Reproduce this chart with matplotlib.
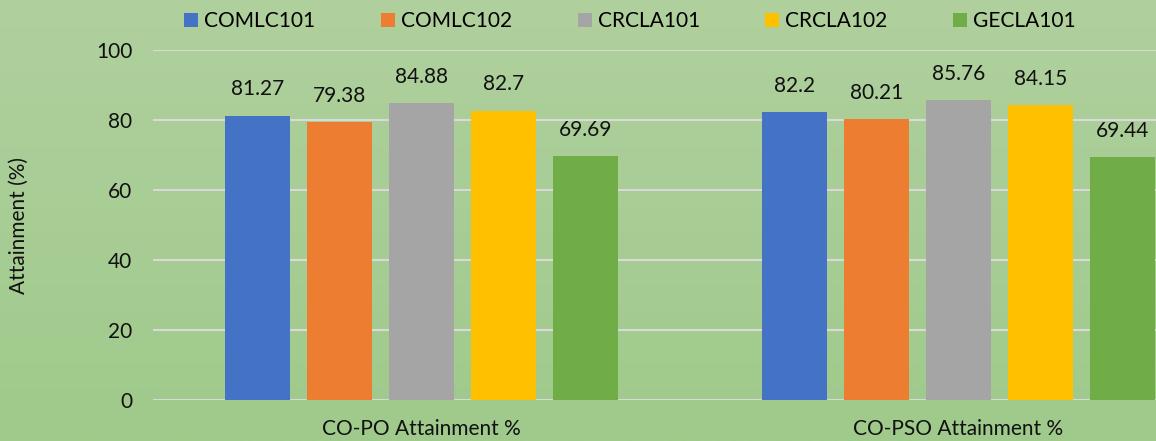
import matplotlib
matplotlib.use("Agg")
import matplotlib.pyplot as plt
import numpy as np
from matplotlib.patches import Patch

categories = ["CO-PO Attainment %", "CO-PSO Attainment %"]
series = ["COMLC101", "COMLC102", "CRCLA101", "CRCLA102", "GECLA101"]
values = {
    "COMLC101": [81.27, 82.2],
    "COMLC102": [79.38, 80.21],
    "CRCLA101": [84.88, 85.76],
    "CRCLA102": [82.7, 84.15],
    "GECLA101": [69.69, 69.44],
}
colors = ["#4472C4", "#ED7D31", "#A5A5A5", "#FFC000", "#70AD47"]
yticks = [0, 20, 40, 60, 80, 100]

plt.rcParams['font.family'] = ['Lato', 'DejaVu Sans']
FS = 15
TXT = '#111111'

W, H = 1156, 441
fig = plt.figure(figsize=(W/100, H/100), dpi=100)

# gradient background
bg = fig.add_axes([0, 0, 1, 1], zorder=-10)
grad = np.linspace(0, 1, 256).reshape(-1, 1)
top = np.array([176, 208, 158]) / 255
bot = np.array([159, 202, 139]) / 255
img = top[None, None, :] * (1 - grad[:, :, None]) + bot[None, None, :] * grad[:, :, None]
bg.imshow(img, aspect='auto', extent=[0, 1, 0, 1])
bg.axis('off')

left = 153 / W
right_px = 1227
ax = fig.add_axes([left, (H - 400) / H, (right_px - 153) / W, 350 / H])
ax.patch.set_alpha(0)

x = np.arange(len(categories))
step = 82 / 537
bw = 65 / 537
for i, (s, c) in enumerate(zip(series, colors)):
    off = (i - 2) * step
    bars = ax.bar(x + off, values[s], width=bw, color=c, zorder=3, label=s)
    for b, v in zip(bars, values[s]):
        ax.annotate(f"{v:g}", (b.get_x() + b.get_width() / 2, b.get_height()),
                    xytext=(0, 14.5), textcoords='offset points', ha='center', va='baseline',
                    fontsize=FS, color=TXT)

ax.set_xlim(-0.5, 1.5)
ax.set_ylim(0, 100)
ax.set_yticks(yticks)
ax.set_yticklabels([str(t) for t in yticks], fontsize=FS, color=TXT)
ax.set_xticks(x)
ax.set_xticklabels(categories, fontsize=FS, color=TXT)
ax.tick_params(length=0, axis='both')
ax.tick_params(axis='y', pad=15)
ax.tick_params(axis='x', pad=13.5)
ax.grid(axis='y', color='#D9D9D9', linewidth=1.5, zorder=0)
for sp in ax.spines.values():
    sp.set_visible(False)

fig.text(19 / W, 1 - 226 / H, "Attainment (%)", rotation=90, ha='center', va='center',
         fontsize=FS, color=TXT)

handles = [Patch(facecolor=c, edgecolor='none') for c in colors]
fig.legend(handles, series, loc='center', bbox_to_anchor=(630 / W, 1 - 21 / H), ncol=5,
           frameon=False, fontsize=FS, handlelength=0.67, handleheight=0.67, handletextpad=0.29,
           columnspacing=3.14)

fig.savefig("out.png", dpi=100)
